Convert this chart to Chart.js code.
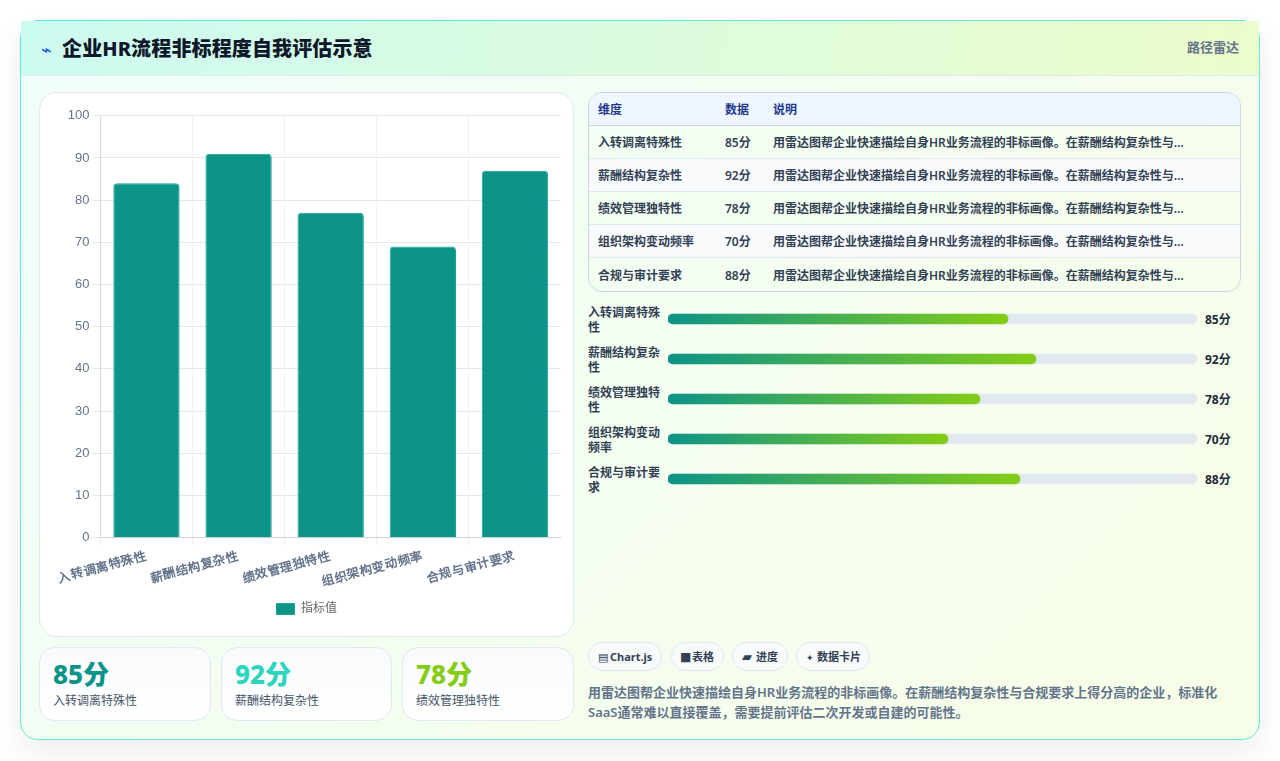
<!DOCTYPE html>
<html lang="zh-CN">
<head>
<meta charset="utf-8">
<title>企业HR流程非标程度自我评估示意</title>
<script src="https://cdn.jsdelivr.net/npm/chart.js@4/dist/chart.umd.min.js"></script>
<style>
  * { box-sizing: border-box; margin: 0; padding: 0; }
  html, body { width: 1280px; height: 761px; overflow: hidden; background: #fff; }
  body { font-family: "Noto Sans", "Noto Sans CJK SC", sans-serif; color: #0f172a; position: relative; }

  .card {
    position: absolute; left: 20px; top: 20px; width: 1240px; height: 720px;
    border: 1px solid #5eead4; border-radius: 18px;
    background: linear-gradient(135deg, #f0fdfa, #f7fee7);
    box-shadow: 0 12px 30px rgba(15, 23, 42, 0.08);
  }
  .header {
    position: absolute; left: 0; top: 0; width: 1238px; height: 55px;
    background: linear-gradient(100deg, #ccfbf1, #ecfccb);
    border-bottom: 1px solid #e2e8f0;
  }
  .header .icon { position: absolute; left: 20px; top: 19px; font-family: "DejaVu Sans", sans-serif; font-size: 18px; color: #1d4ed8; line-height: 20px; }
  .header h1 { position: absolute; left: 41px; top: 13px; font-size: 20px; font-weight: 800; line-height: 30px; letter-spacing: 0.13px; color: #0f172a; }
  .header .tag { position: absolute; right: 20px; top: 16px; font-size: 13px; font-weight: 600; line-height: 20px; color: #64748b; }

  .chart-card {
    position: absolute; left: 18px; top: 71px; width: 535px; height: 545px;
    background: #fff; border: 1px solid #e2e8f0; border-radius: 18px;
  }
  .chart-box { position: absolute; left: 12px; top: 12px; width: 509px; height: 520px; }

  .stat {
    position: absolute; top: 626px; height: 74px;
    background: linear-gradient(180deg, #f8fafc, #fff);
    border: 1px solid #e2e8f0; border-radius: 16px;
  }
  .stat .num { position: absolute; left: 13px; top: 8px; font-size: 26px; font-weight: 800; line-height: 36px; }
  .stat .lbl { position: absolute; left: 13px; top: 44px; font-size: 12px; line-height: 18px; color: #475569; }

  table.data {
    position: absolute; left: 567px; top: 71px; width: 653px; height: 200px;
    border: 1px solid #cbd5e1; border-radius: 14px; border-collapse: separate; border-spacing: 0;
    overflow: hidden; font-size: 12px; table-layout: fixed;
  }
  table.data th, table.data td { padding: 0 9px; text-align: left; border-bottom: 1px solid #e2e8f0; height: 33px; white-space: nowrap; overflow: hidden; text-overflow: ellipsis; }
  table.data th { background: #eff6ff; color: #1e3a8a; font-weight: 700; height: 33px; border-bottom-color: #cbd5e1; }
  table.data td { font-weight: 600; color: #334155; }
  table.data tr:nth-child(even) td { background: #f8fafc; }
  table.data tr:last-child td { border-bottom: 0; }

  .row-lbl { position: absolute; left: 567px; width: 76px; font-size: 12px; font-weight: 600; line-height: 15px; color: #334155; }
  .row-val { position: absolute; left: 1184px; font-size: 12px; font-weight: 700; line-height: 16px; color: #1e293b; }
  .progress-box { position: absolute; left: 647px; top: 278px; width: 529px; height: 200px; }

  .pill {
    position: absolute; top: 621px; height: 29px; padding: 0 9px; border: 1px solid #e2e8f0; border-radius: 15px;
    background: #f8fafc; font-size: 11px; font-weight: 700; line-height: 27px; color: #334155; white-space: nowrap;
  }
  .pill i { display: inline-block; font-family: "DejaVu Sans", sans-serif; font-style: normal; }
  .note { position: absolute; left: 567px; top: 661px; width: 654px; font-size: 13px; font-weight: 600; line-height: 20px; color: #64748b; }
</style>
</head>
<body>
<div class="card">
  <div class="header">
    <span class="icon">⌁</span>
    <h1>企业HR流程非标程度自我评估示意</h1>
    <span class="tag">路径雷达</span>
  </div>

  <div class="chart-card"><div class="chart-box"><canvas id="barChart"></canvas></div></div>
  <div id="stats"></div>

  <table class="data">
    <colgroup><col style="width:127px"><col style="width:48px"><col></colgroup>
    <thead><tr><th>维度</th><th>数据</th><th>说明</th></tr></thead>
    <tbody id="tablaBody"></tbody>
  </table>

  <div id="rows"></div>
  <div class="progress-box"><canvas id="progressChart"></canvas></div>

  <span class="pill" style="left:567px;width:74px"><i style="font-size:11px;width:12px">▤</i>Chart.js</span>
  <span class="pill" style="left:650px;width:53px"><i style="font-size:12px;width:12px;margin-left:-1px">■</i>表格</span>
  <span class="pill" style="left:711px;width:56px"><i style="font-size:13px;width:14px">▰</i>进度</span>
  <span class="pill" style="left:775px;width:74px"><i style="font-size:9px;width:11px">✦</i>数据卡片</span>
  <p class="note" id="note"></p>
</div>

<script>
const categorias = ['入转调离特殊性', '薪酬结构复杂性', '绩效管理独特性', '组织架构变动频率', '合规与审计要求'];
const valoresBarras = [84, 91, 77, 69, 87];
const puntuaciones = [85, 92, 78, 70, 88];
const ticksY = [0, 10, 20, 30, 40, 50, 60, 70, 80, 90, 100];
const coloresStat = ['#0d9488', '#2dd4bf', '#84cc16'];
const posicionesStat = [18, 200, 381];
const anchosStat = [172, 171, 172];
const nota = '用雷达图帮企业快速描绘自身HR业务流程的非标画像。在薪酬结构复杂性与合规要求上得分高的企业，标准化SaaS通常难以直接覆盖，需要提前评估二次开发或自建的可能性。';
// una fila de progreso llega al 100% con este valor
const maxProgreso = 132.25;

// ---------- Tabla ----------

document.getElementById('tablaBody').innerHTML = categorias.map((c, i) => `
  <tr><td>${c}</td><td>${puntuaciones[i]}分</td><td><span style="display:inline-block;width:414px;overflow:hidden;text-overflow:ellipsis;vertical-align:middle">${nota}</span></td></tr>
`).join('');
document.getElementById('note').textContent = nota;

// ---------- Tarjetas ----------

document.getElementById('stats').innerHTML = coloresStat.map((color, i) => `
  <div class="stat" style="left:${posicionesStat[i]}px;width:${anchosStat[i]}px">
    <div class="num" style="color:${color}">${puntuaciones[i]}分</div>
    <div class="lbl">${categorias[i]}</div>
  </div>
`).join('');

document.getElementById('rows').innerHTML = categorias.map((c, i) => `
  <div class="row-lbl" style="top:${284 + i * 40}px">${c}</div>
  <div class="row-val" style="top:${291 + i * 40}px">${puntuaciones[i]}分</div>
`).join('');

// ---------- Gráfica de barras ----------

new Chart(document.getElementById('barChart'), {
  type: 'bar',
  data: {
    labels: categorias,
    datasets: [{
      label: '指标值',
      data: valoresBarras,
      backgroundColor: '#0d9488',
      borderColor: '#12a594',
      borderWidth: 1,
      borderRadius: 4
    }]
  },
  options: {
    responsive: true,
    maintainAspectRatio: false,
    animation: false,
    scales: {
      y: {
        min: 0,
        max: 100,
        afterBuildTicks: axis => { axis.ticks = ticksY.map(value => ({ value })); },
        ticks: { color: '#64748b', font: { size: 13 } },
        grid: { color: '#e5e7ef' }
      },
      x: {
        ticks: { color: '#64748b', font: { size: 12.5, weight: '600' }, minRotation: 15, maxRotation: 15 },
        grid: { color: '#eef0f8' }
      }
    },
    plugins: {
      legend: {
        position: 'bottom',
        labels: { color: '#666', font: { size: 12 }, boxWidth: 18, boxHeight: 11 }
      },
      tooltip: { enabled: false }
    }
  }
});

// ---------- Barras de progreso ----------

function gradienteFila(ctx) {
  const { chart, dataIndex } = ctx;
  const x = chart.scales.x;
  const fin = x ? x.getPixelForValue(puntuaciones[dataIndex]) : NaN;
  if (!Number.isFinite(fin)) return '#0d9488';
  const g = chart.ctx.createLinearGradient(x.getPixelForValue(0), 0, fin, 0);
  g.addColorStop(0, '#0d9488');
  g.addColorStop(1, '#84cc16');
  return g;
}

new Chart(document.getElementById('progressChart'), {
  type: 'bar',
  data: {
    labels: categorias,
    datasets: [
      { data: puntuaciones, backgroundColor: gradienteFila, barThickness: 10, borderRadius: 5, borderSkipped: false, order: 1 },
      { data: categorias.map(() => maxProgreso), backgroundColor: '#e2e8f0', barThickness: 10, borderRadius: 5, borderSkipped: false, order: 2 }
    ]
  },
  options: {
    indexAxis: 'y',
    responsive: true,
    maintainAspectRatio: false,
    animation: false,
    layout: { padding: 0 },
    datasets: { bar: { grouped: false } },
    scales: {
      x: { display: false, min: 0, max: maxProgreso },
      y: { display: false }
    },
    plugins: { legend: { display: false }, tooltip: { enabled: false } }
  }
});
</script>
</body>
</html>
